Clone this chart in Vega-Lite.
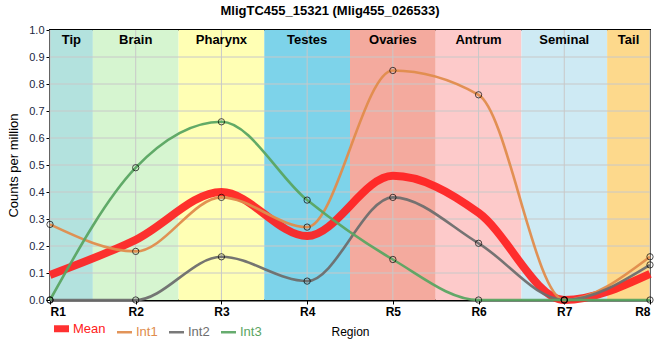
{
  "$schema": "https://vega.github.io/schema/vega-lite/v6.json",
  "width": 600,
  "height": 270,
  "autosize": {"type": "none"},
  "padding": {"left": 50, "top": 30, "right": 10, "bottom": 60},
  "background": "white",
  "config": {
    "font": "Liberation Sans",
    "view": {"stroke": "black", "strokeWidth": 2},
    "axis": {"domainColor": "black", "domainWidth": 2, "tickColor": "black", "tickSize": 4, "grid": false, "labelOverlap": false}
  },
  "title": {"text": "MligTC455_15321 (Mlig455_026533)", "anchor": "middle", "dx": -20, "offset": 6, "fontSize": 13, "fontWeight": "bold", "color": "black"},
  "datasets": {
    "bands": [
      {"name": "Tip", "x1": 1, "x2": 1.5, "mid": 1.25},
      {"name": "Brain", "x1": 1.5, "x2": 2.5, "mid": 2},
      {"name": "Pharynx", "x1": 2.5, "x2": 3.5, "mid": 3},
      {"name": "Testes", "x1": 3.5, "x2": 4.5, "mid": 4},
      {"name": "Ovaries", "x1": 4.5, "x2": 5.5, "mid": 5},
      {"name": "Antrum", "x1": 5.5, "x2": 6.5, "mid": 6},
      {"name": "Seminal", "x1": 6.5, "x2": 7.5, "mid": 7},
      {"name": "Tail", "x1": 7.5, "x2": 8, "mid": 7.75}
    ],
    "xgrid": [{"g": 1}, {"g": 2}, {"g": 3}, {"g": 4}, {"g": 5}, {"g": 6}, {"g": 7}, {"g": 8}],
    "ygrid": [{"g": 0.1}, {"g": 0.2}, {"g": 0.3}, {"g": 0.4}, {"g": 0.5}, {"g": 0.6}, {"g": 0.7}, {"g": 0.8}, {"g": 0.9}],
    "series": [
      {"r": 1, "s": "Mean", "v": 0.093},
      {"r": 2, "s": "Mean", "v": 0.223},
      {"r": 3, "s": "Mean", "v": 0.4},
      {"r": 4, "s": "Mean", "v": 0.237},
      {"r": 5, "s": "Mean", "v": 0.46},
      {"r": 6, "s": "Mean", "v": 0.323},
      {"r": 7, "s": "Mean", "v": 0.0},
      {"r": 8, "s": "Mean", "v": 0.097},
      {"r": 1, "s": "Int1", "v": 0.28},
      {"r": 2, "s": "Int1", "v": 0.18},
      {"r": 3, "s": "Int1", "v": 0.38},
      {"r": 4, "s": "Int1", "v": 0.27},
      {"r": 5, "s": "Int1", "v": 0.85},
      {"r": 6, "s": "Int1", "v": 0.76},
      {"r": 7, "s": "Int1", "v": 0.0},
      {"r": 8, "s": "Int1", "v": 0.16},
      {"r": 1, "s": "Int2", "v": 0.0},
      {"r": 2, "s": "Int2", "v": 0.0},
      {"r": 3, "s": "Int2", "v": 0.16},
      {"r": 4, "s": "Int2", "v": 0.07},
      {"r": 5, "s": "Int2", "v": 0.38},
      {"r": 6, "s": "Int2", "v": 0.21},
      {"r": 7, "s": "Int2", "v": 0.0},
      {"r": 8, "s": "Int2", "v": 0.13},
      {"r": 1, "s": "Int3", "v": 0.0},
      {"r": 2, "s": "Int3", "v": 0.49},
      {"r": 3, "s": "Int3", "v": 0.66},
      {"r": 4, "s": "Int3", "v": 0.37},
      {"r": 5, "s": "Int3", "v": 0.15},
      {"r": 6, "s": "Int3", "v": 0.0},
      {"r": 7, "s": "Int3", "v": 0.0},
      {"r": 8, "s": "Int3", "v": 0.0}
    ]
  },
  "layer": [
    {
      "data": {"name": "bands"},
      "mark": {"type": "rect"},
      "encoding": {
        "x": {"field": "x1", "type": "quantitative", "scale": {"domain": [1, 8], "nice": false, "zero": false},
          "axis": {"values": [1, 2, 3, 4, 5, 6, 7, 8], "labelExpr": "'R' + datum.value", "labelFontWeight": "bold", "labelFontSize": 12, "labelColor": "black", "title": "Region", "titleFontWeight": "normal", "titleFontSize": 12, "titlePadding": 9, "titleColor": "black"}},
        "x2": {"field": "x2"},
        "y": {"datum": 0, "type": "quantitative", "scale": {"domain": [0, 1], "nice": false},
          "axis": {"values": [0, 0.1, 0.2, 0.3, 0.4, 0.5, 0.6, 0.7, 0.8, 0.9, 1.0], "format": ".1f", "labelFontSize": 11, "labelColor": "#1b2740", "title": "Counts per million", "titleFontWeight": "normal", "titleFontSize": 13, "titleColor": "black", "titlePadding": 8}},
        "y2": {"datum": 1},
        "fill": {"field": "name", "type": "nominal", "legend": null,
          "scale": {"domain": ["Tip", "Brain", "Pharynx", "Testes", "Ovaries", "Antrum", "Seminal", "Tail"],
            "range": ["#b3e2de", "#d6f5d0", "#ffffb4", "#7dd3ea", "#f4aa9e", "#fdcaca", "#ceeaf4", "#fdd98c"]}}
      }
    },
    {
      "data": {"name": "xgrid"},
      "mark": {"type": "rule", "color": "#c8c8c8", "strokeWidth": 1},
      "encoding": {"x": {"field": "g", "type": "quantitative",
          "axis": {"values": [1, 2, 3, 4, 5, 6, 7, 8], "labelExpr": "'R' + datum.value", "labelFontWeight": "bold", "labelFontSize": 12, "labelColor": "black", "title": "Region", "titleFontWeight": "normal", "titleFontSize": 12, "titlePadding": 9, "titleColor": "black"}}}
    },
    {
      "data": {"name": "ygrid"},
      "mark": {"type": "rule", "color": "#c8c8c8", "strokeWidth": 1},
      "encoding": {"y": {"field": "g", "type": "quantitative",
          "axis": {"values": [0, 0.1, 0.2, 0.3, 0.4, 0.5, 0.6, 0.7, 0.8, 0.9, 1.0], "format": ".1f", "labelFontSize": 11, "labelColor": "#1b2740", "title": "Counts per million", "titleFontWeight": "normal", "titleFontSize": 13, "titleColor": "black", "titlePadding": 8}}}
    },
    {
      "data": {"name": "bands"},
      "mark": {"type": "text", "fontWeight": "bold", "fontSize": 13, "color": "black", "baseline": "middle"},
      "encoding": {
        "x": {"field": "mid", "type": "quantitative",
          "axis": {"values": [1, 2, 3, 4, 5, 6, 7, 8], "labelExpr": "'R' + datum.value", "labelFontWeight": "bold", "labelFontSize": 12, "labelColor": "black", "title": "Region", "titleFontWeight": "normal", "titleFontSize": 12, "titlePadding": 9, "titleColor": "black"}},
        "y": {"datum": 0.963, "type": "quantitative",
          "axis": {"values": [0, 0.1, 0.2, 0.3, 0.4, 0.5, 0.6, 0.7, 0.8, 0.9, 1.0], "format": ".1f", "labelFontSize": 11, "labelColor": "#1b2740", "title": "Counts per million", "titleFontWeight": "normal", "titleFontSize": 13, "titleColor": "black", "titlePadding": 8}},
        "text": {"field": "name"}
      }
    },
    {
      "data": {"name": "series"},
      "transform": [{"filter": "datum.s === 'Mean'"}],
      "mark": {"type": "line", "interpolate": "monotone", "opacity": 0.92, "strokeWidth": 8},
      "encoding": {
        "x": {"field": "r", "type": "quantitative",
          "axis": {"values": [1, 2, 3, 4, 5, 6, 7, 8], "labelExpr": "'R' + datum.value", "labelFontWeight": "bold", "labelFontSize": 12, "labelColor": "black", "title": "Region", "titleFontWeight": "normal", "titleFontSize": 12, "titlePadding": 9, "titleColor": "black"}},
        "y": {"field": "v", "type": "quantitative",
          "axis": {"values": [0, 0.1, 0.2, 0.3, 0.4, 0.5, 0.6, 0.7, 0.8, 0.9, 1.0], "format": ".1f", "labelFontSize": 11, "labelColor": "#1b2740", "title": "Counts per million", "titleFontWeight": "normal", "titleFontSize": 13, "titleColor": "black", "titlePadding": 8}},
        "color": {"field": "s", "type": "nominal",
          "scale": {"domain": ["Mean", "Int1", "Int2", "Int3"], "range": ["#ff2020", "#e08c4c", "#6e6e6e", "#5aa562"]},
          "legend": {"orient": "none", "legendX": 5, "legendY": 292, "padding": 0, "direction": "horizontal", "title": null,
            "symbolType": "stroke", "symbolSize": 225, "labelFontSize": 13, "labelOffset": 5, "columnPadding": 6,
            "symbolStrokeWidth": {"expr": "datum.value === 'Mean' ? 7 : 2.5"},
            "labelColor": {"expr": "scale('color', datum.value)"}}}
      }
    },
    {
      "data": {"name": "series"},
      "transform": [{"filter": "datum.s !== 'Mean'"}],
      "mark": {"type": "line", "interpolate": "monotone", "opacity": 0.95, "strokeWidth": 2.6},
      "encoding": {
        "x": {"field": "r", "type": "quantitative",
          "axis": {"values": [1, 2, 3, 4, 5, 6, 7, 8], "labelExpr": "'R' + datum.value", "labelFontWeight": "bold", "labelFontSize": 12, "labelColor": "black", "title": "Region", "titleFontWeight": "normal", "titleFontSize": 12, "titlePadding": 9, "titleColor": "black"}},
        "y": {"field": "v", "type": "quantitative",
          "axis": {"values": [0, 0.1, 0.2, 0.3, 0.4, 0.5, 0.6, 0.7, 0.8, 0.9, 1.0], "format": ".1f", "labelFontSize": 11, "labelColor": "#1b2740", "title": "Counts per million", "titleFontWeight": "normal", "titleFontSize": 13, "titleColor": "black", "titlePadding": 8}},
        "color": {"field": "s", "type": "nominal"}
      }
    },
    {
      "data": {"name": "series"},
      "transform": [{"filter": "datum.s !== 'Mean'"}],
      "mark": {"type": "point", "filled": false, "stroke": "black", "strokeWidth": 1, "size": 40, "clip": false},
      "encoding": {
        "x": {"field": "r", "type": "quantitative",
          "axis": {"values": [1, 2, 3, 4, 5, 6, 7, 8], "labelExpr": "'R' + datum.value", "labelFontWeight": "bold", "labelFontSize": 12, "labelColor": "black", "title": "Region", "titleFontWeight": "normal", "titleFontSize": 12, "titlePadding": 9, "titleColor": "black"}},
        "y": {"field": "v", "type": "quantitative",
          "axis": {"values": [0, 0.1, 0.2, 0.3, 0.4, 0.5, 0.6, 0.7, 0.8, 0.9, 1.0], "format": ".1f", "labelFontSize": 11, "labelColor": "#1b2740", "title": "Counts per million", "titleFontWeight": "normal", "titleFontSize": 13, "titleColor": "black", "titlePadding": 8}}
      }
    }
  ]
}
